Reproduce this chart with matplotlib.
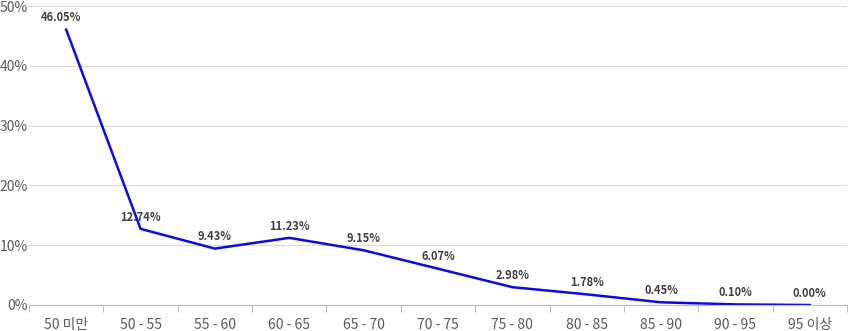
import matplotlib.pyplot as plt
from matplotlib.ticker import FuncFormatter

plt.rcParams['font.family'] = ['Noto Sans CJK KR', 'DejaVu Sans']

# 데이터
categories = ['50 미만', '50 - 55', '55 - 60', '60 - 65', '65 - 70', '70 - 75',
              '75 - 80', '80 - 85', '85 - 90', '90 - 95', '95 이상']
values = [46.05, 12.74, 9.43, 11.23, 9.15, 6.07, 2.98, 1.78, 0.45, 0.10, 0.00]

fig = plt.figure(figsize=(8.48, 3.31), dpi=100)
ax = fig.add_axes([29 / 848, 1 - 305 / 331, 818 / 848, 299 / 331])

x = list(range(len(categories)))
ax.plot(x, values, color='#0a0ae6', linewidth=1.8)

for xi, v in zip(x, values):
    ax.annotate(f'{v:.2f}%', (xi, v), xytext=(-3.5 if xi == 0 else 0, 8.5),
                textcoords='offset points', ha='center', va='center',
                fontsize=8, fontweight='bold', color='#404040')

ax.set_xlim(-0.5, len(categories) - 0.5)
ax.set_ylim(0, 50)
ax.set_yticks(range(0, 51, 10))
ax.yaxis.set_major_formatter(FuncFormatter(lambda v, p: f'{v:.0f}%'))
ax.grid(axis='y', color='#d9d9d9', linewidth=0.8)
ax.set_axisbelow(True)

# 눈금은 카테고리 사이
ax.set_xticks([i - 0.5 for i in range(len(categories) + 1)])
ax.set_xticklabels([])
ax.set_xticks(x, minor=True)
ax.set_xticklabels(categories, minor=True)
ax.tick_params(axis='x', which='major', length=5, color='#bfbfbf', direction='out')
ax.tick_params(axis='x', which='minor', length=0, pad=9.5, labelsize=10, labelcolor='#595959')
ax.tick_params(axis='y', length=0, pad=1, labelsize=10, labelcolor='#595959')

for s in ['top', 'right', 'left']:
    ax.spines[s].set_visible(False)
ax.spines['bottom'].set_color('#bfbfbf')
ax.spines['bottom'].set_linewidth(0.8)

fig.savefig('out.png', dpi=100)
